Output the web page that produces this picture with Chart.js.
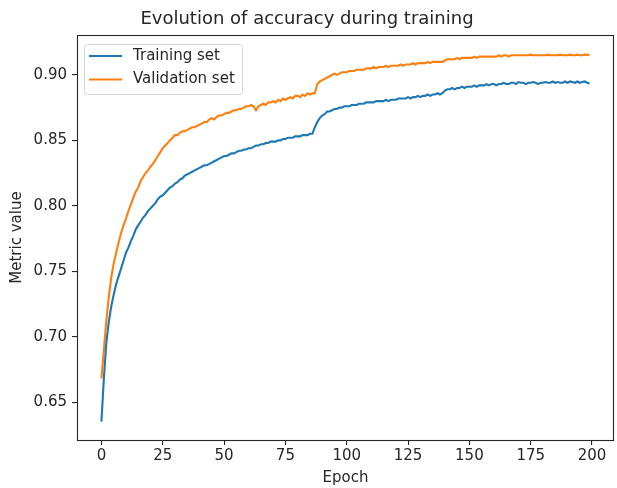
<!DOCTYPE html>
<html>
<head>
<meta charset="utf-8">
<script src="https://cdn.jsdelivr.net/npm/chart.js@4.4.1/dist/chart.umd.min.js"></script>
<style>
  body { margin: 0; background: #fff; }
  #wrap { width: 617px; height: 488px; }
</style>
</head>
<body>
<div id="wrap"><canvas id="myChart" width="617" height="488"></canvas></div>
<script>
const firstEpoch = 0;
const lastEpoch = 199;

epoch_list = [];
for (var i = firstEpoch; i <= lastEpoch; i++) {
    epoch_list.push(i);
}

const xTicks = [0, 25, 50, 75, 100, 125, 150, 175, 200];
const yTicks = [0.65, 0.70, 0.75, 0.80, 0.85, 0.90];

// accuracy per epoch
const training_acc = [
    0.635, 0.668, 0.695, 0.711, 0.723, 0.732, 0.740, 0.746, 0.752, 0.758,
    0.764, 0.768, 0.773, 0.777, 0.782, 0.785, 0.788, 0.791, 0.793, 0.796,
    0.798, 0.800, 0.802, 0.805, 0.807, 0.808, 0.810, 0.812, 0.814, 0.815,
    0.817, 0.818, 0.820, 0.821, 0.823, 0.824, 0.825, 0.826, 0.827, 0.828,
    0.829, 0.830, 0.831, 0.831, 0.832, 0.833, 0.834, 0.835, 0.836, 0.837,
    0.838, 0.838, 0.839, 0.840, 0.840, 0.841, 0.842, 0.842, 0.843, 0.843,
    0.844, 0.844, 0.845, 0.846, 0.846, 0.847, 0.847, 0.848, 0.848, 0.849,
    0.849, 0.849, 0.850, 0.850, 0.851, 0.851, 0.852, 0.852, 0.852, 0.853,
    0.853, 0.853, 0.854, 0.854, 0.854, 0.855, 0.855, 0.860, 0.864, 0.867,
    0.869, 0.870, 0.872, 0.872, 0.873, 0.874, 0.874, 0.875, 0.875, 0.876,
    0.876, 0.876, 0.877, 0.877, 0.877, 0.878, 0.878, 0.878, 0.879, 0.879,
    0.879, 0.879, 0.880, 0.880, 0.880, 0.880, 0.881, 0.880, 0.881, 0.881,
    0.881, 0.882, 0.882, 0.882, 0.882, 0.883, 0.882, 0.883, 0.883, 0.884,
    0.883, 0.884, 0.884, 0.885, 0.884, 0.885, 0.885, 0.886, 0.885, 0.886,
    0.888, 0.889, 0.889, 0.890, 0.889, 0.890, 0.890, 0.891, 0.890, 0.891,
    0.891, 0.891, 0.892, 0.891, 0.892, 0.892, 0.892, 0.893, 0.892, 0.893,
    0.893, 0.892, 0.893, 0.893, 0.894, 0.893, 0.893, 0.894, 0.894, 0.893,
    0.8945, 0.894, 0.894, 0.893, 0.894, 0.894, 0.8945, 0.894, 0.893, 0.894,
    0.894, 0.8945, 0.894, 0.894, 0.895, 0.894, 0.8945, 0.894, 0.894, 0.895,
    0.894, 0.895, 0.8945, 0.894, 0.895, 0.894, 0.8945, 0.895, 0.894, 0.8935
];

const validation_acc = [
    0.668, 0.690, 0.712, 0.730, 0.745, 0.756, 0.764, 0.772, 0.779, 0.785,
    0.790, 0.796, 0.801, 0.806, 0.811, 0.814, 0.819, 0.822, 0.825, 0.827,
    0.830, 0.832, 0.835, 0.838, 0.841, 0.844, 0.846, 0.848, 0.850, 0.852,
    0.854, 0.854, 0.856, 0.857, 0.857, 0.858, 0.859, 0.860, 0.860, 0.861,
    0.862, 0.863, 0.864, 0.864, 0.866, 0.867, 0.866, 0.868, 0.869, 0.869,
    0.870, 0.871, 0.871, 0.872, 0.873, 0.873, 0.874, 0.874, 0.875, 0.876,
    0.876, 0.877, 0.876, 0.873, 0.876, 0.877, 0.878, 0.877, 0.879, 0.879,
    0.880, 0.879, 0.881, 0.880, 0.882, 0.881, 0.882, 0.883, 0.882, 0.884,
    0.884, 0.883, 0.885, 0.884, 0.886, 0.885, 0.886, 0.886, 0.893, 0.895,
    0.896, 0.897, 0.898, 0.899, 0.900, 0.901, 0.900, 0.901, 0.902, 0.902,
    0.902, 0.903, 0.903, 0.903, 0.904, 0.904, 0.904, 0.904, 0.905, 0.905,
    0.905, 0.906, 0.905, 0.906, 0.906, 0.906, 0.907, 0.906, 0.907, 0.907,
    0.907, 0.907, 0.908, 0.907, 0.908, 0.908, 0.908, 0.909, 0.908, 0.909,
    0.909, 0.909, 0.909, 0.910, 0.909, 0.910, 0.910, 0.910, 0.910, 0.910,
    0.911, 0.912, 0.912, 0.912, 0.912, 0.913, 0.912, 0.913, 0.913, 0.913,
    0.913, 0.913, 0.914, 0.913, 0.914, 0.914, 0.914, 0.914, 0.914, 0.914,
    0.914, 0.914, 0.915, 0.914, 0.915, 0.915, 0.914, 0.915, 0.915, 0.915,
    0.915, 0.915, 0.915, 0.915, 0.915, 0.9155, 0.915, 0.915, 0.915, 0.915,
    0.915, 0.915, 0.9155, 0.915, 0.915, 0.915, 0.915, 0.9155, 0.915, 0.915,
    0.915, 0.9155, 0.915, 0.915, 0.9155, 0.915, 0.915, 0.9155, 0.9155, 0.915
];

const fontFamily = "'DejaVu Sans', sans-serif";
const textColor = '#262626';
const axisColor = '#262626';

// matplotlib style frame round the plot area
const boxPlugin = {
    id: 'box',
    afterDraw(chart) {
        const a = chart.chartArea;
        const ctx = chart.ctx;
        ctx.save();
        ctx.strokeStyle = axisColor;
        ctx.lineWidth = 1.1;
        ctx.strokeRect(Math.round(a.left) + 0.5, Math.round(a.top) + 0.5,
            Math.round(a.right - a.left) - 1, Math.round(a.bottom - a.top));
        ctx.restore();
    }
};

// legend box in the upper left corner of the axes
const innerLegend = {
    id: 'innerLegend',
    afterDraw(chart) {
        const a = chart.chartArea;
        const ctx = chart.ctx;
        const x0 = a.left + 7, y0 = a.top + 9, w = 158, h = 50;
        ctx.save();
        ctx.beginPath();
        ctx.roundRect(x0 + 0.5, y0 + 0.5, w, h, 3);
        ctx.fillStyle = 'rgba(255,255,255,0.8)';
        ctx.fill();
        ctx.strokeStyle = '#d6d6d6';
        ctx.lineWidth = 1;
        ctx.stroke();
        ctx.font = '15px ' + fontFamily;
        ctx.textBaseline = 'middle';
        chart.data.datasets.forEach(function (ds, k) {
            const yy = y0 + 12 + k * 23.5;
            ctx.strokeStyle = ds.borderColor;
            ctx.lineWidth = 2.1;
            ctx.beginPath();
            ctx.moveTo(x0 + 5, yy);
            ctx.lineTo(x0 + 38, yy);
            ctx.stroke();
            ctx.fillStyle = textColor;
            ctx.fillText(ds.label, x0 + 49, yy);
        });
        ctx.restore();
    }
};

const ctx = document.getElementById('myChart').getContext('2d');
const myChart = new Chart(ctx, {
    type: 'line',
    data: {
        labels: epoch_list,
        datasets: [
            {
                label: 'Training set',
                data: training_acc,
                borderColor: '#1f77b4',
                borderWidth: 2.1,
                pointRadius: 0,
                fill: false
            },
            {
                label: 'Validation set',
                data: validation_acc,
                borderColor: '#ff7f0e',
                borderWidth: 2.1,
                pointRadius: 0,
                fill: false
            }
        ]
    },
    options: {
        responsive: false,
        animation: false,
        layout: { padding: { left: 0, right: 3, top: 0, bottom: 0 } },
        plugins: {
            legend: { display: false },
            tooltip: { enabled: false },
            title: {
                display: true,
                text: 'Evolution of accuracy during training',
                color: textColor,
                font: { family: fontFamily, size: 18, weight: 'normal' },
                padding: { top: 9, bottom: 4.4 }
            }
        },
        scales: {
            x: {
                type: 'linear',
                min: -9.95,
                max: 208.95,
                afterBuildTicks: function (scale) {
                    scale.ticks = xTicks.map(v => ({ value: v }));
                },
                afterFit: function (scale) { scale.height = 48; },
                grid: { display: true, drawOnChartArea: false, drawTicks: true, tickLength: 5, color: axisColor, lineWidth: 1.1 },
                border: { display: false },
                ticks: {
                    color: textColor,
                    padding: 2,
                    maxRotation: 0,
                    font: { family: fontFamily, size: 15 },
                    callback: v => v.toString()
                },
                title: {
                    display: true,
                    text: 'Epoch',
                    color: textColor,
                    font: { family: fontFamily, size: 15 },
                    padding: { top: 0, bottom: 1 }
                }
            },
            y: {
                min: 0.621,
                max: 0.9305,
                afterBuildTicks: function (scale) {
                    scale.ticks = yTicks.map(v => ({ value: v }));
                },
                afterFit: function (scale) { scale.width = 77; },
                grid: { display: true, drawOnChartArea: false, drawTicks: true, tickLength: 5, color: axisColor, lineWidth: 1.1 },
                border: { display: false },
                ticks: {
                    color: textColor,
                    padding: 5,
                    font: { family: fontFamily, size: 15 },
                    callback: v => v.toFixed(2)
                },
                title: {
                    display: true,
                    text: 'Metric value',
                    color: textColor,
                    font: { family: fontFamily, size: 15 },
                    padding: { top: 8, bottom: 0 }
                }
            }
        }
    },
    plugins: [boxPlugin, innerLegend]
});
</script>
</body>
</html>
